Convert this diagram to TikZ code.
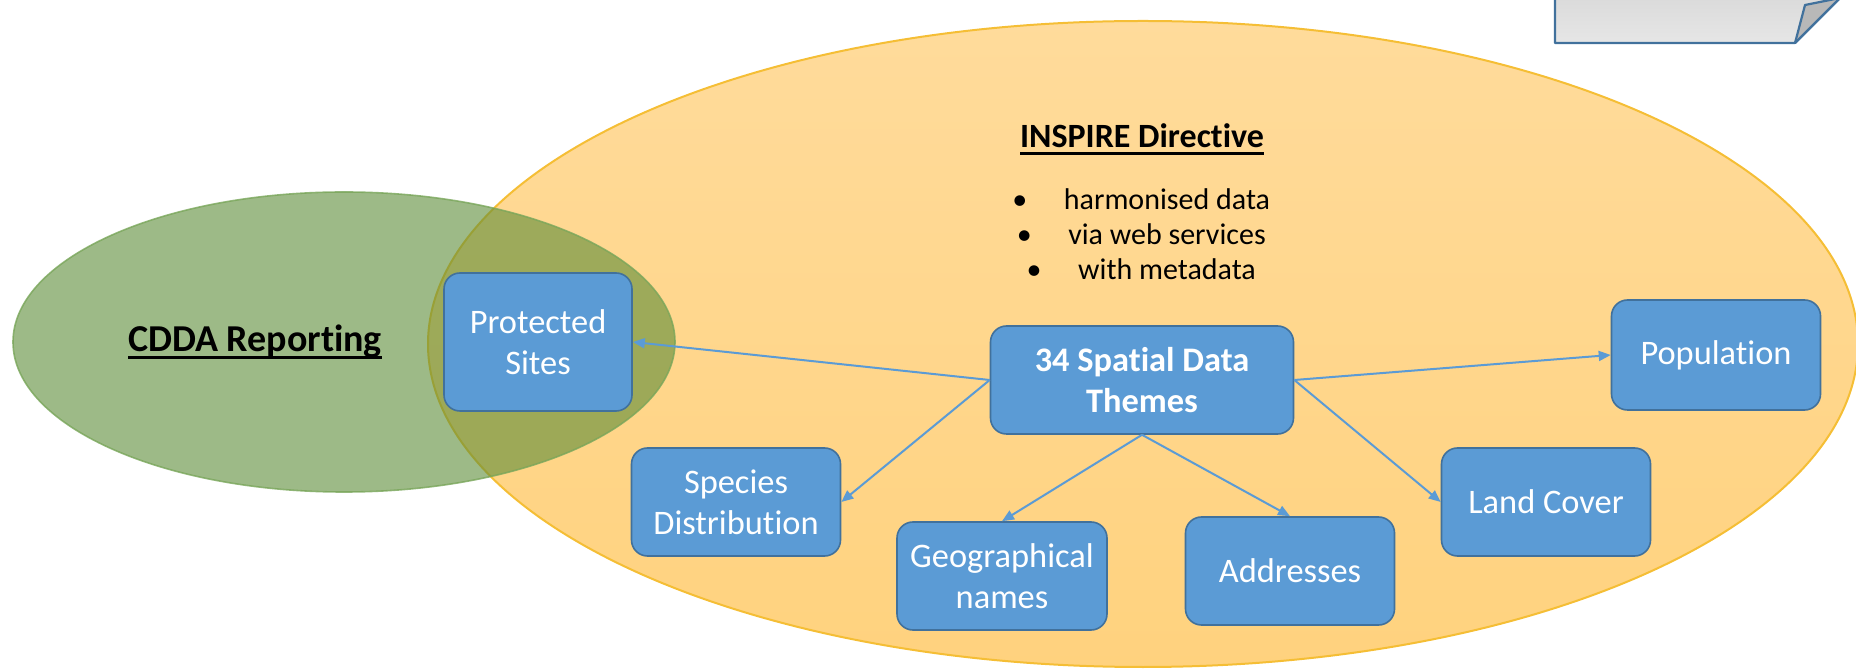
\documentclass[tikz,border=0pt]{standalone}
\usepackage{fontspec}
\setmainfont{Carlito}[Ligatures={NoCommon,NoRare,NoContextual}]
\usetikzlibrary{arrows.meta}
\definecolor{boxfill}{HTML}{5B9BD5}
\definecolor{boxline}{HTML}{41719C}
\definecolor{arrowc}{HTML}{5B9BD5}
\definecolor{yelA}{HTML}{FFDB9B}
\definecolor{yelB}{HTML}{FFD27E}
\definecolor{yelline}{HTML}{F5BE35}
\definecolor{grn}{HTML}{5C8C37}
\definecolor{grnline}{HTML}{79A65A}
\definecolor{paperA}{HTML}{D9D9D9}
\definecolor{paperB}{HTML}{E6E6E6}
\definecolor{foldc}{HTML}{B8B8B8}
\newcommand\myuline[1]{\setbox0=\hbox{#1}\rlap{\rule[-3.8pt]{\wd0}{1.5pt}}\box0}
\tikzset{
  theme/.style={rectangle, rounded corners=8pt, fill=boxfill, draw=boxline,
    line width=0.8pt, text=white, font=\fontsize{17.2}{20.5}\selectfont,
    align=center, inner sep=2pt, minimum width=104.5pt, minimum height=54pt},
  link/.style={draw=arrowc, line width=1pt, -{Triangle[length=6pt,width=5pt]}},
  title/.style={font=\fontsize{17}{20}\selectfont\bfseries, inner sep=0pt}
}
\begin{document}
\begin{tikzpicture}[x=0.5pt, y=-0.5pt]
\useasboundingbox (0,0) rectangle (1856,672);
\begin{scope}
\clip (0,0) rectangle (1856,672);
\shadedraw[top color=yelA, bottom color=yelB, draw=yelline, line width=1pt]
  (1143,344) ellipse [x radius=357.5pt, y radius=161.5pt];
\fill[grn, fill opacity=0.6] (344,342) ellipse [x radius=165.5pt, y radius=75pt];
\draw[grnline, line width=0.8pt, draw opacity=0.8] (344,342) ellipse [x radius=165.5pt, y radius=75pt];
\shadedraw[top color=paperA, bottom color=paperB, draw=boxline, line width=1.1pt, line join=round]
  (1555,-10) -- (1555,43) -- (1795,43) -- (1848,-10);
\fill[foldc] (1795,43) -- (1805,5) -- (1840,-4) -- cycle;
\draw[boxline, line width=1.1pt, line join=round] (1795,43) -- (1805,5) -- (1845,-3);
\draw[boxline, line width=1.1pt, line join=round] (1795,43) -- (1848,-10);
\end{scope}

\node[title, font=\fontsize{19}{23}\selectfont\bfseries] (cdda) at (255,342) {\myuline{CDDA Reporting}};
\node[title] (insp) at (1142,139) {\myuline{INSPIRE Directive}};
\node[font=\fontsize{15}{17.6}\selectfont, align=center, inner sep=0pt] (bul) at (1145,234)
  {\makebox[0pt]{•}\hspace{22pt}harmonised data\\
   \makebox[0pt]{•}\hspace{22pt}via web services\\
   \makebox[0pt]{•}\hspace{22pt}with metadata};

\node[theme, minimum width=94pt, minimum height=69pt] (prot) at (538,342) {Protected\\Sites};
\node[theme, minimum width=151.5pt, font=\fontsize{17.2}{20.5}\selectfont\bfseries] (spat) at (1142,380) {34 Spatial Data\\Themes};
\node[theme, minimum height=55pt] (pop) at (1716,355) {Population};
\node[theme] (spec) at (736,502) {Species\\Distribution};
\node[theme, minimum width=105pt] (geo) at (1002,576) {Geographical\\names};
\node[theme] (addr) at (1290,571) {Addresses};
\node[theme] (land) at (1546,502) {Land Cover};

\draw[link] (spat.west) -- (prot.east);
\draw[link] (spat.west) -- (spec.east);
\draw[link] (spat.south) -- (geo.north);
\draw[link] (spat.south) -- (addr.north);
\draw[link] (spat.east) -- (pop.west);
\draw[link] (spat.east) -- (land.west);
\end{tikzpicture}
\end{document}
